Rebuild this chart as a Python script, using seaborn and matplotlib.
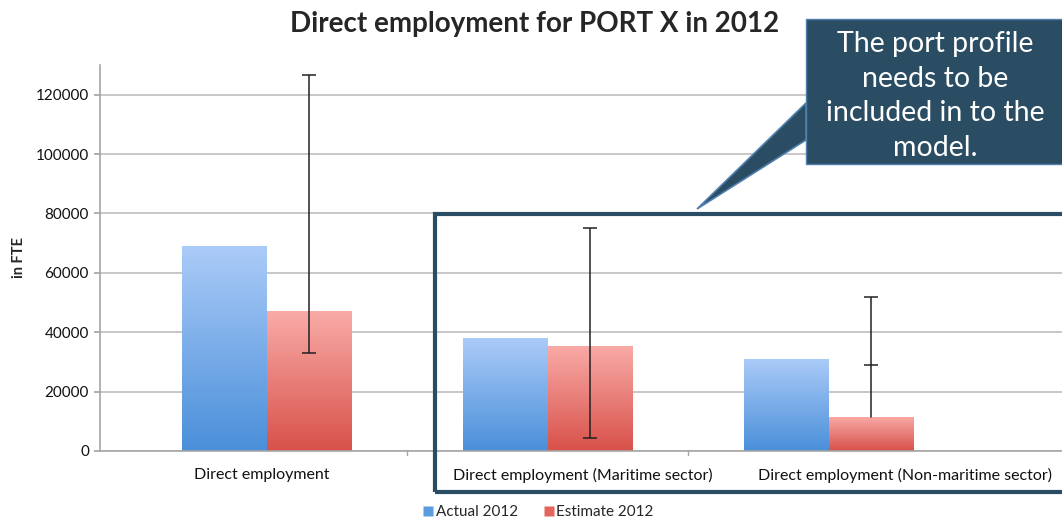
import numpy as np
import pandas as pd
import matplotlib
matplotlib.use("Agg")
import matplotlib.pyplot as plt
import matplotlib.transforms as mtransforms
from matplotlib.colors import LinearSegmentedColormap
from matplotlib.patches import Rectangle, Polygon
from matplotlib.lines import Line2D
import seaborn as sns

# data
categories = ["Direct employment",
              "Direct employment (Maritime sector)",
              "Direct employment (Non-maritime sector)"]
actual_2012 = [69000, 38000, 31000]
estimate_2012 = [47000, 35500, 11500]
est_low = [33000, 4300, 29000]
est_high = [126800, 75200, 51700]
series = ["Actual 2012", "Estimate 2012"]

sns.set_theme(style="white")
plt.rcParams["font.family"] = ["Lato", "DejaVu Sans"]

df = pd.DataFrame({
    "category": categories * 2,
    "value": actual_2012 + estimate_2012,
    "series": [series[0]] * 3 + [series[1]] * 3,
})

W, H = 1062, 521
fig = plt.figure(figsize=(W / 100, H / 100), dpi=100)
ax = fig.add_axes([100 / W, 1 - 451 / H, 1 - 100 / W, (451 - 65) / H])

sns.barplot(data=df, x="category", y="value", hue="series", ax=ax,
            width=0.6, palette=["#6fa6e8", "#ea7a74"], errorbar=None,
            saturation=1)

xlim = (-0.593, 2.83)
ylim = (0, 130000)

# vertical gradient on each bar, like the Excel look
grads = {
    0: LinearSegmentedColormap.from_list("b", ["#4a8fd9", "#abcbf8"]),
    1: LinearSegmentedColormap.from_list("r", ["#d8514a", "#f9aba7"]),
}
ramp = np.linspace(0, 1, 256).reshape(-1, 1)
for i, cont in enumerate(ax.containers):
    for bar in cont:
        x0, y0 = bar.get_x(), bar.get_y()
        w, h = bar.get_width(), bar.get_height()
        im = ax.imshow(ramp, cmap=grads[i], origin="lower", aspect="auto",
                       extent=[x0, x0 + w, y0, y0 + h], zorder=2)
        im.set_clip_path(bar)
        bar.set_facecolor("none")
        bar.set_edgecolor("none")

# error bars on the estimate bars
est_bars = ax.containers[1]
for bar, val, lo, hi in zip(est_bars, estimate_2012, est_low, est_high):
    xc = bar.get_x() + bar.get_width() / 2
    mid = (lo + hi) / 2
    ax.errorbar(xc, mid, yerr=(hi - lo) / 2, color="#222222", lw=1.1,
                capsize=5, capthick=1.1, zorder=4)
    if lo > val:
        ax.plot([xc, xc], [val, lo], color="#222222", lw=1.1, zorder=4)

ax.set_xlim(*xlim)
ax.set_ylim(*ylim)
ax.set_yticks(np.arange(0, 120001, 20000))
ax.yaxis.grid(True, color="#bdbdbd", lw=1.2)
ax.set_axisbelow(True)
for s in ["top", "right"]:
    ax.spines[s].set_visible(False)
for s in ["left", "bottom"]:
    ax.spines[s].set_color("#a6a6a6")
    ax.spines[s].set_linewidth(1.2)
ax.tick_params(axis="y", length=4, color="#a6a6a6", labelsize=11,
               labelcolor="#111111", left=True, pad=4)
ax.tick_params(axis="x", length=0, labelsize=11.5, labelcolor="#111111", pad=12)
# the category labels sit a bit right of their bars in the original
for lab, dx in zip(ax.get_xticklabels(), [-5, 35, 76]):
    lab.set_transform(lab.get_transform() +
                      mtransforms.ScaledTranslation(dx / 100, 0, fig.dpi_scale_trans))
# small tick marks between categories
for b in [0.5, 1.5]:
    ax.plot([b, b], [0, -1500], color="#a6a6a6", lw=1, clip_on=False)

ax.set_xlabel("")
ax.set_ylabel("in FTE", fontsize=10.5, fontweight="bold", labelpad=7)
ax.get_legend().remove()

fig.text(535 / W, 1 - 24 / H, "Direct employment for PORT X in 2012",
         ha="center", va="center", fontsize=20, fontweight="bold")

handles = [Line2D([], [], marker="s", ls="", markersize=7,
                  markerfacecolor="#5b9be0", markeredgecolor="none"),
           Line2D([], [], marker="s", ls="", markersize=7,
                  markerfacecolor="#e4645e", markeredgecolor="none")]
fig.legend(handles, series, loc="center", bbox_to_anchor=(538 / W, 1 - 512 / H),
           ncol=2, frameon=False, fontsize=11, handletextpad=0.1,
           columnspacing=1.6, handlelength=0.8)

# highlight box around the sector split
box_col = "#2b4d63"
fig.patches.append(Rectangle((435 / W, 1 - 492 / H), 700 / W, (492 - 214) / H,
                             transform=fig.transFigure, fill=False,
                             edgecolor=box_col, lw=3, zorder=10))

# callout with pointer
fig.patches.append(Polygon([(806 / W, 1 - 103 / H), (697 / W, 1 - 209 / H),
                            (806 / W, 1 - 140 / H)], closed=True,
                           transform=fig.transFigure, facecolor=box_col,
                           edgecolor="#4f7fae", lw=1.2, zorder=11))
fig.patches.append(Rectangle((806 / W, 1 - 164 / H), 300 / W, (164 - 19) / H,
                             transform=fig.transFigure, facecolor=box_col,
                             edgecolor="#4f7fae", lw=1, zorder=12))
fig.text(935 / W, 1 - 96 / H,
         "The port profile\nneeds to be\nincluded in to the\nmodel.",
         ha="center", va="center", color="white", fontsize=20.5,
         linespacing=1.42, zorder=13)

fig.savefig("out.png", dpi=100)
